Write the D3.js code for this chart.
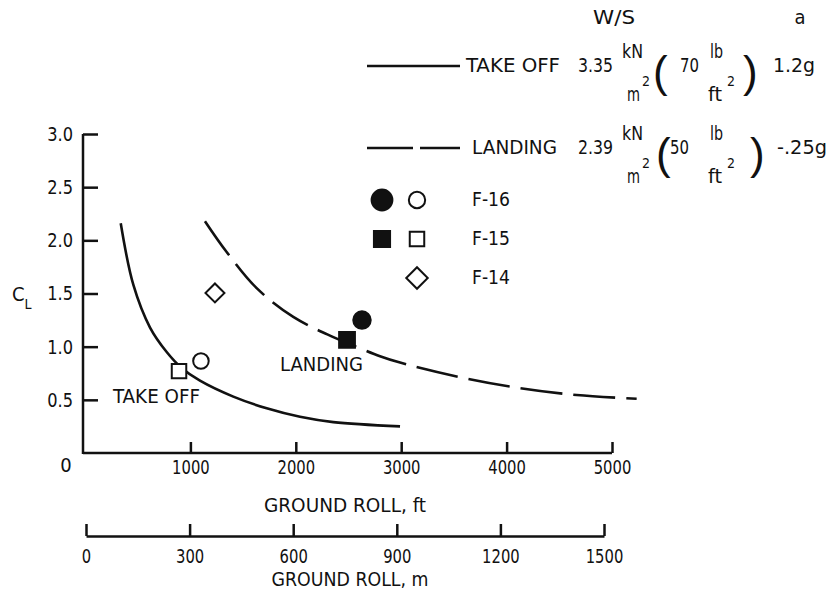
<!DOCTYPE html>
<html>
<head>
<meta charset="utf-8">
<script src="https://cdn.jsdelivr.net/npm/d3@7"></script>
<style>
  body { margin: 0; background: #fff; }
  svg { display: block; }
  text { font-family: 'DejaVu Sans Condensed', 'DejaVu Sans', sans-serif; fill: #111; font-size: 20px; }
  .axis path, .axis line { stroke: #111; stroke-width: 2.5; }
  .axis text { font-size: 20px; font-family: 'DejaVu Sans Condensed', 'DejaVu Sans', sans-serif; }
  .paren { font-family: 'Liberation Sans', 'Noto Sans', sans-serif; font-weight: normal; }
</style>
</head>
<body>
<div id="chart"></div>
<script>
// curves (ground roll in ft, lift coefficient)
const takeoffFt = [339, 459, 617, 775, 917, 1091, 1407, 1724, 2040, 2356, 2989];
const takeoffCL = [2.16, 1.58, 1.18, 0.95, 0.80, 0.68, 0.53, 0.42, 0.34, 0.29, 0.25];
const landingFt = [1138, 1344, 1629, 1976, 2356, 2609, 2799, 2989, 3526, 4064, 4665, 5234];
const landingCL = [2.18, 1.89, 1.55, 1.28, 1.09, 0.985, 0.91, 0.85, 0.72, 0.62, 0.545, 0.51];

// aircraft test points
const aircraft = ['F-16', 'F-15', 'F-14'];
const aircraftShape = ['circle', 'square', 'diamond'];
const takeoffPtFt = [1100, 892, 1233];
const takeoffPtCL = [0.865, 0.77, 1.505];
const landingPtFt = [2628, 2486, null];
const landingPtCL = [1.25, 1.063, null];

// axis ticks
const clTicks = [0.5, 1.0, 1.5, 2.0, 2.5, 3.0];
const ftTicks = [1000, 2000, 3000, 4000, 5000];
const mTicks = [0, 300, 600, 900, 1200, 1500];

const width = 832, height = 593;

const svg = d3.select('#chart').append('svg')
  .attr('width', width)
  .attr('height', height);

const x = d3.scaleLinear().domain([0, 5000]).range([85, 612]);
const y = d3.scaleLinear().domain([0, 3]).range([453, 134]);
const xm = d3.scaleLinear().domain([0, 1500]).range([86, 604]);

// squeeze the lettering so it looks like the narrow stencil type of the original
function narrow(sel, w) {
  sel.attr('textLength', w).attr('lengthAdjust', 'spacingAndGlyphs');
  return sel;
}
const charW = s => s.split('').reduce((a, c) => a + (c === '.' ? 7 : 9.4), 0);

// ft axis
svg.append('g')
  .attr('class', 'axis')
  .attr('transform', `translate(0,${y(0)})`)
  .call(d3.axisBottom(x).tickValues(ftTicks).tickSize(-11).tickSizeOuter(0).tickPadding(7).tickFormat(d3.format('d')))
  .call(g => g.select('.domain').attr('d', `M83,0H${x(5000)}`));

svg.append('text')
  .attr('x', 66).attr('y', 466)
  .attr('text-anchor', 'middle').attr('dominant-baseline', 'middle')
  .text('0');

// C_L axis
svg.append('g')
  .attr('class', 'axis')
  .attr('transform', 'translate(83,0)')
  .call(d3.axisLeft(y).tickValues(clTicks).tickSize(-15).tickSizeOuter(0).tickPadding(10).tickFormat(d3.format('.1f')))
  .call(g => g.select('.domain').attr('d', `M0,${y(3)}V${y(0) + 1}`));

// metric axis
svg.append('g')
  .attr('class', 'axis')
  .attr('transform', 'translate(0,536)')
  .call(d3.axisBottom(xm).tickValues(mTicks).tickSize(-12).tickSizeOuter(0).tickPadding(13).tickFormat(d3.format('d')));

svg.selectAll('.axis .tick text')
  .attr('fill', '#111')
  .each(function () { narrow(d3.select(this), charW(this.textContent)); });

// axis titles
narrow(svg.append('text')
  .attr('x', 345).attr('y', 506)
  .attr('text-anchor', 'middle').attr('dominant-baseline', 'middle')
  .text('GROUND ROLL, ft'), 162);

narrow(svg.append('text')
  .attr('x', 350).attr('y', 580)
  .attr('text-anchor', 'middle').attr('dominant-baseline', 'middle')
  .text('GROUND ROLL, m'), 157);

const clLabel = svg.append('text')
  .attr('x', 12).attr('y', 301);
clLabel.append('tspan').text('C');
clLabel.append('tspan').attr('dy', 8).style('font-size', '14px').text('L');

// curves
const line = d3.line()
  .x(d => x(d[0]))
  .y(d => y(d[1]))
  .curve(d3.curveCatmullRom.alpha(0.5));

svg.append('path')
  .datum(d3.zip(takeoffFt, takeoffCL))
  .attr('d', line)
  .attr('fill', 'none')
  .attr('stroke', '#111')
  .attr('stroke-width', 2.6);

svg.append('path')
  .datum(d3.zip(landingFt, landingCL))
  .attr('d', line)
  .attr('fill', 'none')
  .attr('stroke', '#111')
  .attr('stroke-width', 2.6)
  .attr('stroke-dasharray', '42,11');

// curve labels
narrow(svg.append('text')
  .attr('x', 113).attr('y', 397)
  .attr('dominant-baseline', 'middle')
  .text('TAKE OFF'), 87);

narrow(svg.append('text')
  .attr('x', 280).attr('y', 365)
  .attr('dominant-baseline', 'middle')
  .text('LANDING'), 83);

// markers
function drawMarker(g, shape, filled, size) {
  let type = d3.symbolCircle;
  let rotate = 0;
  if (shape === 'square') type = d3.symbolSquare;
  if (shape === 'diamond') { type = d3.symbolSquare; rotate = 45; }
  g.append('path')
    .attr('d', d3.symbol().type(type).size(size))
    .attr('transform', `rotate(${rotate})`)
    .attr('fill', filled ? '#111' : '#fff')
    .attr('stroke', '#111')
    .attr('stroke-width', 2);
}

aircraft.forEach((name, i) => {
  const shape = aircraftShape[i];
  const openSize = shape === 'circle' ? 190 : shape === 'square' ? 210 : 180;
  const fillSize = shape === 'circle' ? 240 : 250;

  const gT = svg.append('g').attr('transform', `translate(${x(takeoffPtFt[i])},${y(takeoffPtCL[i])})`);
  drawMarker(gT, shape, false, openSize);

  if (landingPtFt[i] !== null) {
    const gL = svg.append('g').attr('transform', `translate(${x(landingPtFt[i])},${y(landingPtCL[i])})`);
    drawMarker(gL, shape, true, fillSize);
  }

  // legend row
  const ly = 200 + i * 39;
  if (landingPtFt[i] !== null) {
    drawMarker(svg.append('g').attr('transform', `translate(382,${ly})`), shape, true, shape === 'circle' ? 340 : 260);
  }
  drawMarker(svg.append('g').attr('transform', `translate(417,${ly})`), shape, false, shape === 'diamond' ? 230 : 210);
  narrow(svg.append('text')
    .attr('x', 472).attr('y', ly)
    .attr('dominant-baseline', 'middle')
    .text(name), 38);
});

// line legend
const legendRows = [
  { y: 66, label: 'TAKE OFF', labelW: 94, labelX: 466, ws: '3.35', lbs: '70', a: '1.2g', aW: 42, dash: null, parenL: 653, numX: 680, parenR: 743, aX: 773 },
  { y: 148, label: 'LANDING', labelW: 85, labelX: 472, ws: '2.39', lbs: '50', a: '-.25g', aW: 50, dash: '46,7', parenL: 656, numX: 670, parenR: 750, aX: 777 }
];

narrow(svg.append('text').attr('x', 593).attr('y', 18)
  .attr('dominant-baseline', 'middle').text('W/S'), 42);
svg.append('text').attr('x', 800).attr('y', 18)
  .attr('text-anchor', 'middle').attr('dominant-baseline', 'middle')
  .text('a');

legendRows.forEach(r => {
  svg.append('line')
    .attr('x1', 367).attr('x2', 460)
    .attr('y1', r.y).attr('y2', r.y)
    .attr('stroke', '#111').attr('stroke-width', 2.5)
    .attr('stroke-dasharray', r.dash);

  const t = (tx, ty, s, fs, w) => {
    const el = svg.append('text')
      .attr('x', tx).attr('y', ty)
      .attr('dominant-baseline', 'middle')
      .style('font-size', fs + 'px')
      .text(s);
    if (w) narrow(el, w);
    return el;
  };

  t(r.labelX, r.y, r.label, 20, r.labelW);
  t(578, r.y, r.ws, 20, 35);
  t(622, r.y - 14, 'kN', 19, 21);
  t(627, r.y + 29, 'm', 19, 13);
  t(642, r.y + 16, '2', 14);
  t(r.parenL, r.y + 9, '(', 44).attr('class', 'paren');
  t(r.numX, r.y, r.lbs, 20, 19);
  t(710, r.y - 14, 'lb', 19, 13);
  t(708, r.y + 29, 'ft', 19, 14);
  t(727, r.y + 16, '2', 14);
  t(r.parenR, r.y + 9, ')', 44).attr('class', 'paren');
  t(r.aX, r.y, r.a, 20, r.aW);
});
</script>
</body>
</html>
